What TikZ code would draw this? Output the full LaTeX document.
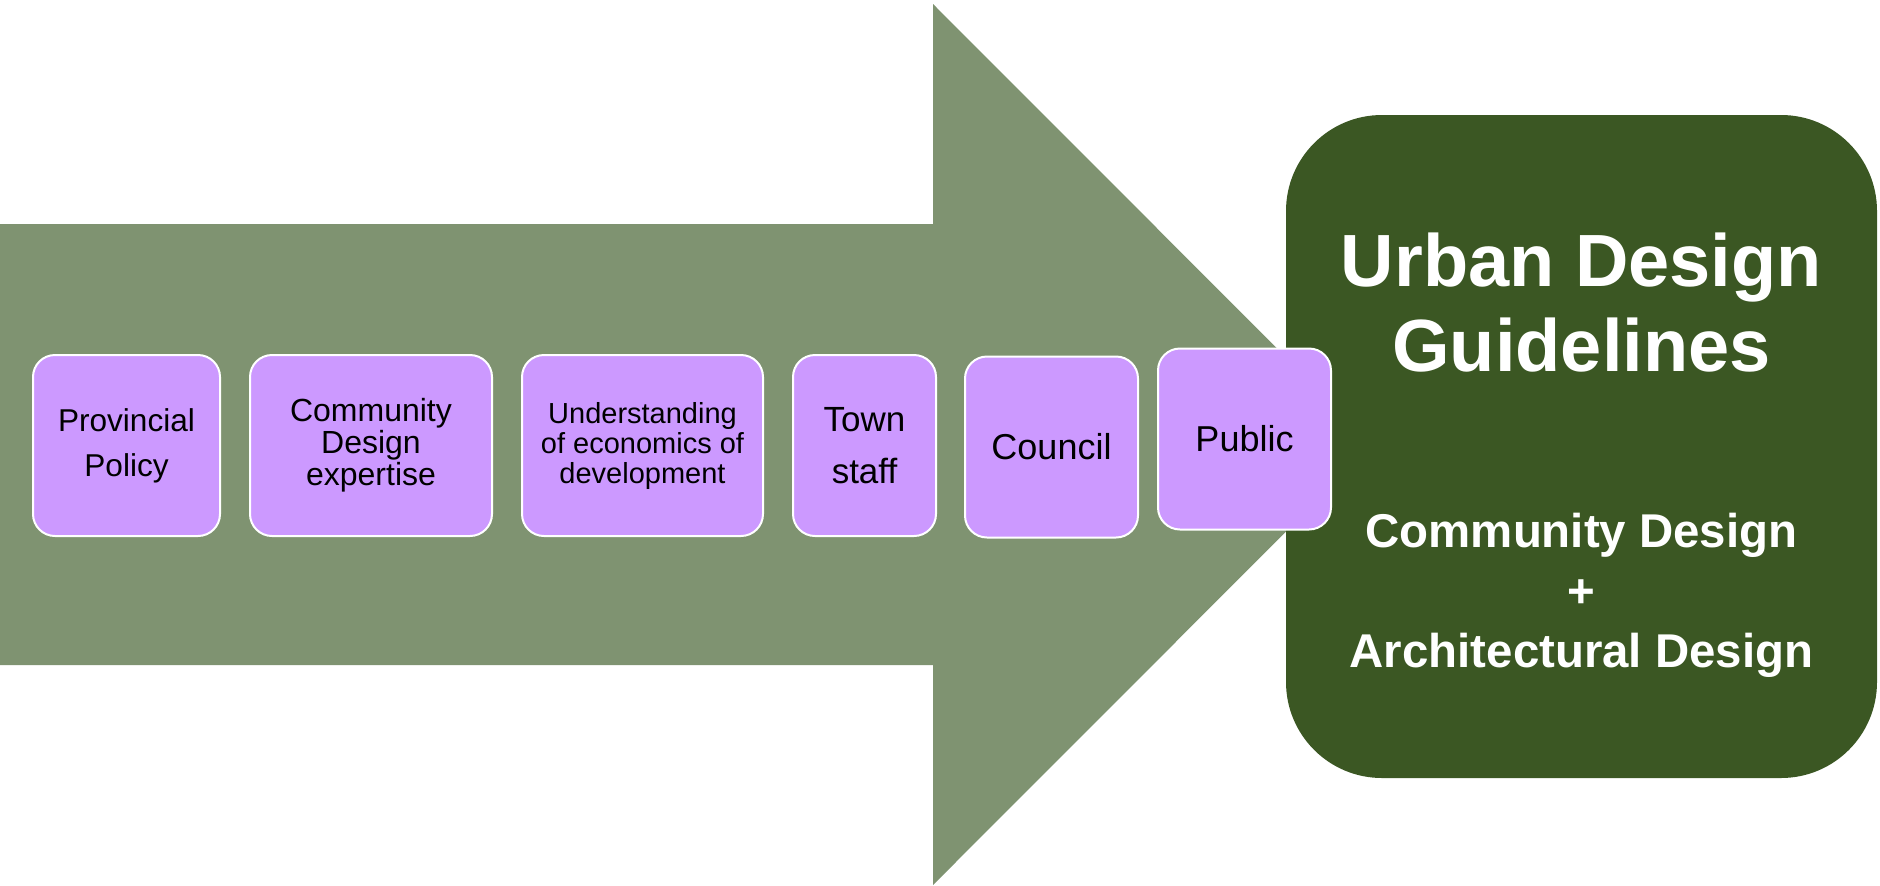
\documentclass[tikz,border=0pt]{standalone}
\usepackage{fontspec}
\setmainfont{Liberation Sans}

\definecolor{arrowgreen}{HTML}{7F9371}
\definecolor{darkgreen}{HTML}{3B5723}
\definecolor{lilac}{HTML}{CC99FF}

\begin{document}
\begin{tikzpicture}[x=0.5pt, y=-0.5pt,
  stage/.style={draw=white, line width=1pt, fill=lilac, rounded corners=11pt,
    minimum height=90.5pt, inner sep=0pt, align=center, text=black},
  goaltext/.style={text=white, align=center, inner sep=0pt}]

\def\ry{445.5}

\useasboundingbox (0,0) rectangle (1880,885);

% big arrow
\fill[arrowgreen] (0,224) -- (933,224) -- (933,4) -- (1373,444.5)
  -- (933,885) -- (933,665) -- (0,665) -- cycle;

% result box
\node[fill=darkgreen, rounded corners=48pt, minimum width=295.5pt,
  minimum height=331.5pt, inner sep=0pt] (goal) at (1581.5,446.5) {};
\node[goaltext, font=\fontsize{37}{42.5}\selectfont\bfseries] (title)
  at (1581.5,303) {Urban Design\\Guidelines};
\node[goaltext, font=\fontsize{23.7}{30}\selectfont\bfseries] (parts)
  at (1581.5,595) {Community Design\\+\\Architectural Design};

% inputs
\node[stage, minimum width=93.5pt, font=\fontsize{15.8}{22.5}\selectfont]
  (prov) at (126.5,\ry) {Provincial\\Policy};
\node[stage, minimum width=121pt, font=\fontsize{16}{16}\selectfont]
  (comm) at (371,\ry) {Community\\Design\\expertise};
\node[stage, minimum width=120.5pt, font=\fontsize{14.5}{15}\selectfont]
  (econ) at (642.5,\ry) {Understanding\\of economics of\\development};
\node[stage, minimum width=71.5pt, font=\fontsize{17.5}{26}\selectfont]
  (town) at (864.5,\ry) {Town\\staff};
\node[stage, minimum width=86.5pt, font=\fontsize{18}{22}\selectfont]
  (council) at (1051.5,447) {Council};
\node[stage, minimum width=86.5pt, font=\fontsize{18}{22}\selectfont]
  (public) at (1244.5,439) {Public};

\end{tikzpicture}
\end{document}
